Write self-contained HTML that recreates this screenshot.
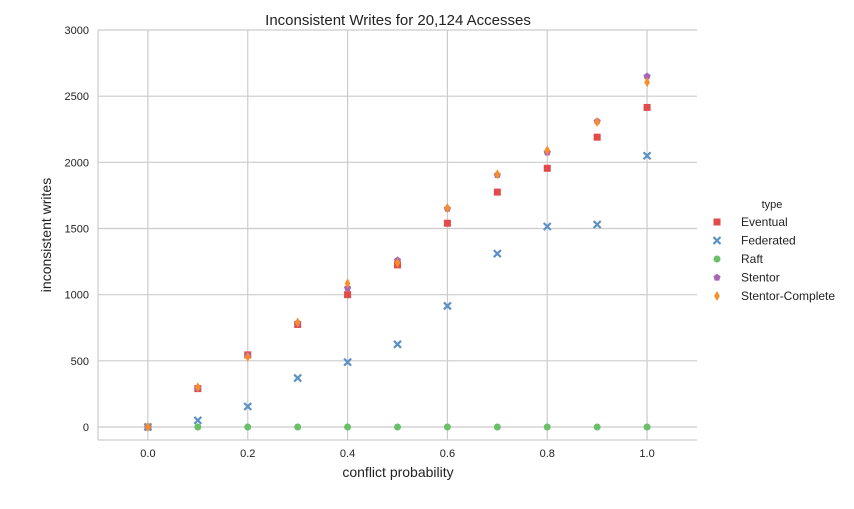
<!DOCTYPE html>
<html><head><meta charset="utf-8"><style>
body{margin:0;background:#fff;font-family:"Liberation Sans",sans-serif}
svg text{font-family:"Liberation Sans",sans-serif;fill:#222}
</style></head><body>
<svg id="chart" width="854" height="504" xmlns="http://www.w3.org/2000/svg">
<text x="398" y="25" font-size="15" text-anchor="middle">Inconsistent Writes for 20,124 Accesses</text>
<g id="grid"></g>
<g id="axes"></g>
<g id="marks"></g>
<text x="398" y="477" font-size="14" text-anchor="middle">conflict probability</text>
<text transform="translate(51,235) rotate(-90)" font-size="14" text-anchor="middle">inconsistent writes</text>
<g id="legend">
<text x="772" y="208" font-size="11" text-anchor="middle">type</text>
</g>
</svg>
<script>
const xs = [0,0.1,0.2,0.3,0.4,0.5,0.6,0.7,0.8,0.9,1.0];
const eventual = [0,290,545,775,1000,1225,1540,1775,1955,2190,2415];
const federated = [0,50,155,370,490,625,915,1310,1515,1530,2050];
const raft = [0,0,0,0,0,0,0,0,0,0,0];
const stentor = [0,295,540,785,1050,1260,1650,1905,2075,2310,2650];
const stentorComplete = [0,300,530,790,1085,1240,1655,1910,2090,2305,2605];
const xTicks = [0,0.2,0.4,0.6,0.8,1.0];
const yTicks = [0,500,1000,1500,2000,2500,3000];
const seriesNames = ["Eventual","Federated","Raft","Stentor","Stentor-Complete"];

const L=98,R=697,T=30,B=440;
const X=v=>L+(v+0.1)/1.2*(R-L);
const Y=v=>427-(v)/3000*(427-30);
const NS="http://www.w3.org/2000/svg";
function mk(tag,attrs,parent){const e=document.createElementNS(NS,tag);for(const k in attrs)e.setAttribute(k,attrs[k]);parent.appendChild(e);return e;}
const grid=document.getElementById('grid'),axes=document.getElementById('axes'),marks=document.getElementById('marks'),legend=document.getElementById('legend');
xTicks.forEach(t=>{
  const l=mk('line',{x1:X(t),x2:X(t),y1:T,y2:B,stroke:'#cccccc','stroke-width':1.2},grid);
  
  
  const tx=mk('text',{x:X(t),y:B+17,'font-size':11,'text-anchor':'middle'},axes);
  tx.textContent=t.toFixed(1);
  
  
});
yTicks.forEach(t=>{
  const l=mk('line',{x1:L,x2:R,y1:Y(t),y2:Y(t),stroke:'#cccccc','stroke-width':1.2},grid);
  
  
  const tx=mk('text',{x:89,y:Y(t)+4,'font-size':11,'text-anchor':'end'},axes);
  tx.textContent=t;
  
  
});
const lb=mk('line',{x1:L,x2:R,y1:B,y2:B,stroke:'#cccccc','stroke-width':1.2},axes);


const ll=mk('line',{x1:L,x2:L,y1:T,y2:B,stroke:'#cccccc','stroke-width':1.2},axes);



const colors=['#e34a4a','#5b90c6','#6abf69','#a866b2','#f98d26'];
function marker(kind,x,y,c,parent){
  let e;
  if(kind===0) e=mk('rect',{x:x-3.5,y:y-3.5,width:7,height:7,fill:c},parent);
  else if(kind===1) e=mk('path',{d:`M${x-3.5},${y-3.5}L${x+3.5},${y+3.5}M${x-3.5},${y+3.5}L${x+3.5},${y-3.5}`,stroke:c,'stroke-width':2.2,fill:'none'},parent);
  else if(kind===2) e=mk('circle',{cx:x,cy:y,r:3.5,fill:c},parent);
  else if(kind===3){let p=[];for(let i=0;i<5;i++){const a=-Math.PI/2+i*2*Math.PI/5;p.push((x+3.8*Math.cos(a)).toFixed(1)+','+(y+3.8*Math.sin(a)).toFixed(1));}e=mk('polygon',{points:p.join(' '),fill:c},parent);}
  else e=mk('polygon',{points:`${x},${y-5} ${x+2.8},${y} ${x},${y+5} ${x-2.8},${y}`,fill:c},parent);
  return e;
}
const allSeries=[eventual,federated,raft,stentor,stentorComplete];
const mnames=['point-eventual','point-federated','point-raft','point-stentor','point-stentor-complete'];
allSeries.forEach((s,k)=>{
  s.forEach((v,i)=>{
    const e=marker(k,X(xs[i]),Y(v),colors[k],marks);
    
    
  });
  const ly=222+k*18.5;
  const lm=marker(k,717,ly,colors[k],legend);
  
  
  const t=mk('text',{x:741,y:ly+4,'font-size':12},legend);
  t.textContent=seriesNames[k];
  
  
});
</script>
</body></html>
